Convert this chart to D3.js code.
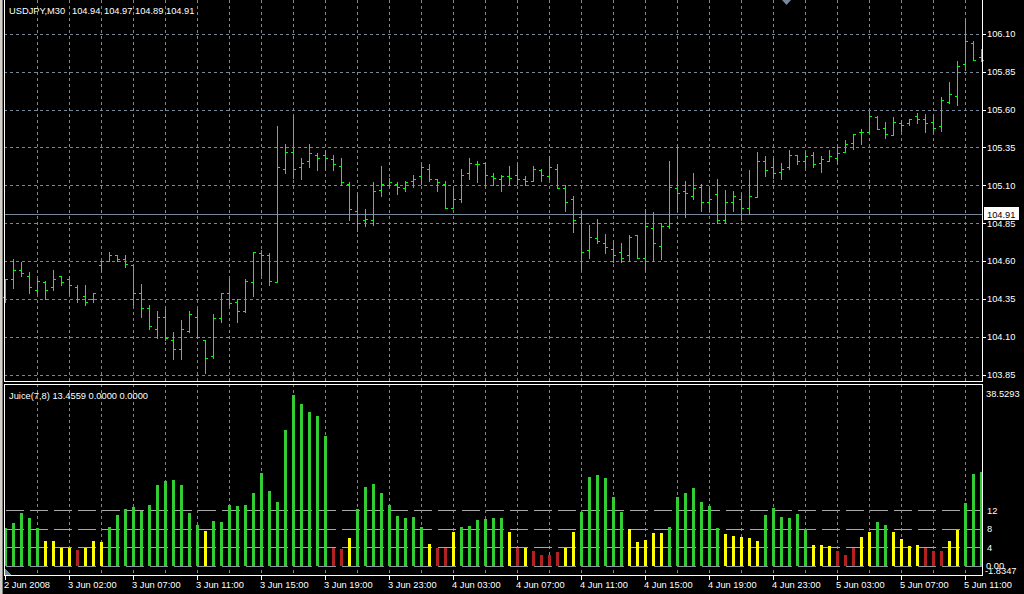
<!DOCTYPE html>
<html><head><meta charset="utf-8">
<script src="https://cdn.jsdelivr.net/npm/d3@7"></script>
<style>
html,body{margin:0;padding:0;background:#000;overflow:hidden}
svg{display:block}
text{font-family:"Liberation Sans",Arial,sans-serif;font-size:9.3px;fill:#fff}
</style>
</head><body>
<svg id="c" width="1024" height="594"></svg>
<script>
const symbolTitle = "USDJPY,M30";
const headerValues = ["104.94", "104.97", "104.89", "104.91"];
const bidPrice = 104.91;
const indicatorTitle = "Juice(7,8) 13.4559 0.0000 0.0000";

const opens = [104.36,104.48,104.54,104.50,104.41,104.46,104.43,104.50,104.48,104.43,104.37,104.35,104.57,104.60,104.64,104.61,104.57,104.39,104.29,104.15,104.23,104.08,104.02,104.14,104.23,104.08,103.97,104.22,104.39,104.33,104.27,104.46,104.65,104.64,104.46,105.21,105.32,105.22,105.26,105.30,105.30,105.27,105.23,105.11,104.93,104.87,104.87,105.07,105.10,105.11,105.08,105.13,105.16,105.21,105.14,105.11,104.95,105.01,105.18,105.24,105.25,105.16,105.14,105.16,105.17,105.14,105.13,105.20,105.16,105.21,105.08,105.01,104.89,104.67,104.75,104.72,104.68,104.66,104.64,104.77,104.62,104.82,104.70,104.83,105.08,105.06,105.03,105.09,104.99,105.04,104.87,104.99,105.01,104.95,105.02,105.26,105.22,105.19,105.22,105.30,105.26,105.30,105.25,105.26,105.28,105.32,105.38,105.45,105.45,105.55,105.48,105.43,105.51,105.51,105.56,105.54,105.52,105.49,105.65,105.69,105.90,106.04,105.95];
const highs = [104.48,104.61,104.59,104.53,104.48,104.47,104.54,104.50,104.50,104.44,104.44,104.39,104.60,104.66,104.64,104.64,104.57,104.45,104.31,104.27,104.28,104.13,104.21,104.27,104.28,104.08,104.25,104.39,104.48,104.35,104.48,104.66,104.67,104.65,105.49,105.37,105.56,105.28,105.37,105.31,105.33,105.30,105.28,105.12,105.04,104.94,105.12,105.23,105.15,105.12,105.13,105.17,105.24,105.24,105.14,105.13,105.08,105.21,105.28,105.26,105.25,105.18,105.17,105.23,105.24,105.16,105.23,105.21,105.29,105.24,105.10,105.03,104.92,104.84,104.88,104.78,104.73,104.72,104.77,104.77,104.94,104.92,104.85,105.26,105.35,105.13,105.18,105.11,105.08,105.14,105.07,105.06,105.04,105.20,105.32,105.29,105.28,105.25,105.33,105.30,105.32,105.32,105.29,105.33,105.35,105.40,105.44,105.47,105.59,105.56,105.52,105.55,105.53,105.54,105.58,105.57,105.57,105.68,105.78,105.92,106.20,106.05,106.00];
const lows = [104.33,104.42,104.50,104.39,104.39,104.35,104.41,104.44,104.39,104.33,104.31,104.33,104.53,104.60,104.60,104.56,104.31,104.23,104.15,104.09,104.08,103.95,103.95,104.13,104.09,103.86,103.96,104.20,104.31,104.20,104.26,104.37,104.51,104.44,104.46,105.18,105.15,105.14,105.22,105.20,105.21,105.20,105.10,104.87,104.80,104.83,104.84,105.03,105.09,105.04,105.06,105.09,105.11,105.13,105.06,104.95,104.95,104.99,105.14,105.12,105.10,105.10,105.06,105.10,105.11,105.10,105.13,105.13,105.14,105.08,104.93,104.79,104.55,104.62,104.72,104.65,104.59,104.59,104.60,104.62,104.54,104.60,104.61,104.82,104.93,104.89,105.01,104.93,104.93,104.85,104.85,104.93,104.87,104.91,105.02,105.16,105.15,105.14,105.21,105.24,105.22,105.22,105.19,105.26,105.24,105.32,105.34,105.37,105.45,105.47,105.41,105.43,105.46,105.50,105.51,105.45,105.45,105.46,105.64,105.63,105.86,105.93,105.92];
const closes = [104.48,104.54,104.52,104.43,104.47,104.41,104.48,104.46,104.44,104.35,104.33,104.39,104.60,104.64,104.61,104.58,104.39,104.29,104.17,104.23,104.09,104.02,104.15,104.25,104.10,103.96,104.22,104.39,104.32,104.27,104.47,104.66,104.64,104.47,105.22,105.32,105.21,105.25,105.31,105.28,105.28,105.24,105.12,104.94,104.85,104.88,105.06,105.11,105.12,105.09,105.12,105.14,105.22,105.14,105.12,104.95,105.01,105.17,105.25,105.24,105.17,105.15,105.16,105.15,105.14,105.13,105.21,105.17,105.22,105.08,104.99,104.87,104.66,104.76,104.73,104.69,104.64,104.62,104.76,104.62,104.83,104.72,104.83,105.09,105.05,105.05,105.08,104.99,105.01,104.87,104.99,105.03,104.95,105.03,105.26,105.20,105.18,105.21,105.30,105.26,105.29,105.24,105.27,105.29,105.31,105.37,105.44,105.45,105.56,105.47,105.44,105.52,105.50,105.54,105.54,105.51,105.48,105.66,105.70,105.89,106.05,105.93,105.93];

const juice = [8.2,9.2,11.3,10.3,8.2,5.35,5.35,3.9,3.9,3.4,3.9,5.35,5.1,8.4,10.9,12.2,12.6,11.8,13.1,17.3,18.2,18.4,17.3,11.3,8.8,7.5,9.6,9.4,13.1,12.8,13.1,15.6,19.9,16.0,13.7,29.1,36.6,34.7,33.0,32.1,27.8,3.9,3.6,6.0,12.2,16.9,17.6,15.6,13.1,10.7,10.3,10.5,8.35,4.7,3.85,3.85,7.3,8.35,8.55,9.8,10.0,10.3,10.3,7.3,3.85,3.85,3.2,2.35,2.35,3.0,3.85,7.3,11.6,19.1,19.5,18.9,14.8,11.6,7.9,5.1,5.55,7.1,7.1,8.35,14.8,15.6,16.7,13.7,12.8,8.1,6.85,6.4,6.2,6.0,5.35,10.9,12.4,10.5,10.3,11.1,7.9,4.5,4.5,4.3,3.2,2.35,3.85,6.2,7.3,9.4,8.8,7.3,5.8,4.3,4.5,3.85,3.2,3.2,5.35,7.7,13.5,19.7,20.1];
// g = above-level (green), y = weak (yellow), r = flat (red); one letter per bar, in groups of ten
const juiceState = ["gggggyyyyr","yyyggggggg","gggggygggg","gggggggggg","grrygggggg",
                    "gggyrryggg","gggyryrrrr","yyggggggyy","yyyggggggg","yyyyyggggg",
                    "gyyyrrryyg","gyyyyrrryy","ggg"].join("").split("");

const priceTicks = [103.85,104.10,104.35,104.60,104.85,105.10,105.35,105.60,105.85,106.10];
const timeLabels = ["2 Jun 2008","3 Jun 02:00","3 Jun 07:00","3 Jun 11:00","3 Jun 15:00","3 Jun 19:00","3 Jun 23:00","4 Jun 03:00","4 Jun 07:00","4 Jun 11:00","4 Jun 15:00","4 Jun 19:00","4 Jun 23:00","5 Jun 03:00","5 Jun 07:00","5 Jun 11:00"];
const timeLabelIdx = [0,8,16,24,32,40,48,56,64,72,80,88,96,104,112,120];
const juiceLevels = [0,4,8,12];
const juiceLevelLabels = ["12","8","4"];
const juiceMax = 38.5293, juiceMin = -1.8347;

const svg = d3.select("#c");
const GRID = "#778899";
const colors = {g:"#32CD32", y:"#FFFF00", r:"#B22222"};
const PL = 4, PR = 982, T1 = 0, B1 = 381, T2 = 384, B2 = 575;

const x = d3.scaleLinear().domain([0, 1]).range([5, 13]);
const y = d3.scaleLinear().domain([103.85, 106.10]).range([374.5, 33.8]);
const yj = d3.scaleLinear().domain([0, 12]).range([566, 510]);
const px = v => Math.round(v) + 0.5;

// window frame on the left
svg.append("rect").attr("x",0).attr("y",0).attr("width",2).attr("height",594).attr("fill","#D4D0C8");
svg.append("rect").attr("x",2).attr("y",0).attr("width",1).attr("height",594).attr("fill","#808080");

const gTop = svg.append("g").attr("shape-rendering","crispEdges");
const gInd = svg.append("g").attr("shape-rendering","crispEdges");

// vertical grid (both panels)
const gridIdx = d3.range(4, 123, 4);
[[gTop, T1, B1], [gInd, T2, B2]].forEach(([g, t, b]) => {
  g.selectAll(null).data(gridIdx).join("line")
    .attr("x1", d => x(d) + 0.5).attr("x2", d => x(d) + 0.5)
    .attr("y1", t).attr("y2", b)
    .attr("stroke", GRID).attr("stroke-dasharray", "3,3");
});
// horizontal price grid
gTop.selectAll(null).data(priceTicks).join("line")
  .attr("x1", PL).attr("x2", PR).attr("y1", d => px(y(d))).attr("y2", d => px(y(d)))
  .attr("stroke", GRID).attr("stroke-dasharray", "3,3");

// bid line
gTop.append("line").attr("x1", PL).attr("x2", PR)
  .attr("y1", px(y(bidPrice))).attr("y2", px(y(bidPrice))).attr("stroke", GRID);

// OHLC bars
const idx = d3.range(opens.length);
const bars = gTop.append("g").attr("stroke", "#00FF00");
bars.selectAll(null).data(idx).join("line")
  .attr("x1", i => x(i) + 0.5).attr("x2", i => x(i) + 0.5)
  .attr("y1", i => Math.round(y(highs[i]))).attr("y2", i => Math.round(y(lows[i])) + 1);
bars.selectAll(null).data(idx).join("line")
  .attr("x1", i => x(i) - 2).attr("x2", i => x(i))
  .attr("y1", i => px(y(opens[i]))).attr("y2", i => px(y(opens[i])));
bars.selectAll(null).data(idx).join("line")
  .attr("x1", i => x(i) + 1).attr("x2", i => x(i) + 3)
  .attr("y1", i => px(y(closes[i]))).attr("y2", i => px(y(closes[i])));

// indicator levels
gInd.selectAll(null).data(juiceLevels).join("line")
  .attr("x1", 6).attr("x2", PR).attr("y1", d => px(yj(d))).attr("y2", d => px(yj(d)))
  .attr("stroke", d => d === 0 ? "#8c96a0" : "#A8A8A8").attr("stroke-dasharray", "18,6");

// histogram
gInd.selectAll(null).data(idx).join("rect")
  .attr("x", i => x(i) - 1).attr("width", 3)
  .attr("y", i => Math.round(yj(juice[i])))
  .attr("height", i => Math.round(yj(0)) - Math.round(yj(juice[i])))
  .attr("fill", i => colors[juiceState[i]]);

// chart start marker
gInd.append("polygon").attr("points", "5,569 5,575 11,575").attr("fill", GRID);
// chart shift marker
svg.append("polygon").attr("points", "782,0 791,0 786.5,5").attr("fill", GRID);

// borders
const border = svg.append("g").attr("stroke", "#fff").attr("shape-rendering","crispEdges");
border.append("line").attr("x1", PL + 0.5).attr("x2", PL + 0.5).attr("y1", 0).attr("y2", B1 + 1);
border.append("line").attr("x1", PR + 0.5).attr("x2", PR + 0.5).attr("y1", 0).attr("y2", B1 + 1);
border.append("line").attr("x1", PL).attr("x2", PR + 1).attr("y1", B1 + 0.5).attr("y2", B1 + 0.5);
border.append("rect").attr("x", PL + 0.5).attr("y", T2 + 0.5).attr("width", PR - PL).attr("height", B2 - T2).attr("fill", "none");

// price axis
const ax = svg.append("g");
ax.selectAll(null).data(priceTicks).join("line").attr("shape-rendering","crispEdges")
  .attr("x1", PR + 1).attr("x2", PR + 4).attr("y1", d => px(y(d))).attr("y2", d => px(y(d))).attr("stroke", "#fff");
ax.selectAll(null).data(priceTicks).join("text")
  .attr("x", 987).attr("y", d => y(d) + 3.5).text(d => d.toFixed(2));
// bid label
ax.append("rect").attr("x", 984).attr("y", 207).attr("width", 35).attr("height", 13).attr("fill", "#fff");
ax.append("text").attr("x", 987).attr("y", 217.5).style("fill", "#000").text(bidPrice.toFixed(2));

// indicator axis
ax.append("text").attr("x", 986).attr("y", 397).text(juiceMax.toFixed(4));
ax.selectAll(null).data([12, 8, 4]).join("text")
  .attr("x", 987).attr("y", d => yj(d) + 3.5).text((d, i) => juiceLevelLabels[i]);
ax.append("text").attr("x", 986).attr("y", yj(0) + 3).text("0.00");
ax.append("text").attr("x", 985).attr("y", 573.5).text(juiceMin.toFixed(4));

// time axis
ax.selectAll(null).data(timeLabelIdx).join("line").attr("shape-rendering","crispEdges")
  .attr("x1", d => x(d) + 0.5).attr("x2", d => x(d) + 0.5).attr("y1", B2 + 1).attr("y2", B2 + 5).attr("stroke", "#fff");
ax.selectAll(null).data(timeLabelIdx).join("text")
  .attr("x", d => x(d) - 1).attr("y", 587.5).text((d, i) => timeLabels[i]);

// titles
const hdrX = [9, 72, 104, 135, 166];
[symbolTitle, ...headerValues].forEach((t, i) => {
  svg.append("text").attr("x", hdrX[i]).attr("y", 14).text(t);
});
svg.append("text").attr("x", 9).attr("y", 398.5).text(indicatorTitle);
</script>
</body></html>
